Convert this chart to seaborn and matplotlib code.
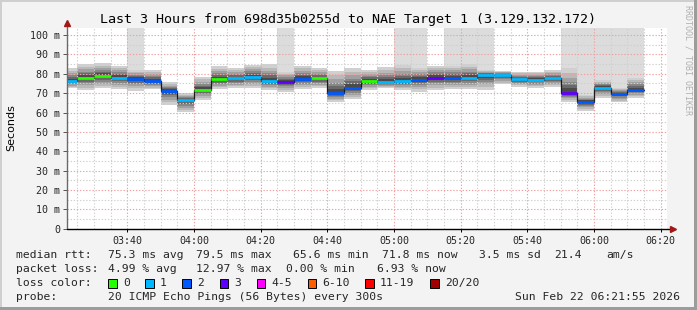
import numpy as np
import pandas as pd
import matplotlib
matplotlib.use("Agg")
import matplotlib.pyplot as plt
from matplotlib.patches import Rectangle
import seaborn as sns

# ---------------- data ----------------
step_times = ["03:20", "03:25", "03:30", "03:35", "03:40", "03:45", "03:50", "03:55",
              "04:00", "04:05", "04:10", "04:15", "04:20", "04:25", "04:30", "04:35",
              "04:40", "04:45", "04:50", "04:55", "05:00", "05:05", "05:10", "05:15",
              "05:20", "05:25", "05:30", "05:35", "05:40", "05:45", "05:50", "05:55",
              "06:00", "06:05", "06:10"]
median_ms = [76.3, 78.0, 79.0, 78.0, 77.3, 76.3, 71.1, 66.6, 71.8, 77.1,
             77.6, 78.5, 76.4, 75.9, 77.4, 77.6, 70.2, 72.8, 76.3, 75.9,
             76.4, 77.0, 78.0, 77.8, 78.0, 79.4, 79.4, 77.1, 76.8, 77.6,
             70.2, 65.6, 72.8, 69.7, 71.8]
smoke_lo = [72.5, 71.6, 72.5, 72.1, 71.3, 72.0, 63.9, 60.1, 66.4, 72.0,
            72.5, 72.8, 71.6, 70.7, 72.1, 72.5, 65.3, 67.0, 71.6, 72.5,
            71.6, 70.7, 71.6, 72.1, 72.1, 71.6, 74.5, 73.3, 72.8, 73.3,
            65.6, 60.8, 67.6, 65.3, 67.6]
smoke_hi = [82.8, 84.9, 85.5, 84.2, 81.9, 81.9, 75.6, 69.9, 78.5, 84.0,
            83.1, 84.5, 84.9, 81.1, 84.2, 82.8, 81.6, 83.1, 81.9, 83.5,
            84.5, 83.1, 84.2, 84.2, 84.9, 81.9, 81.6, 81.1, 81.1, 81.9,
            82.8, 69.0, 76.8, 72.5, 78.0]
max_rtt = [82.8, 84.9, 85.5, 84.2, 150, 81.9, 75.6, 69.9, 78.5, 84.0,
           83.1, 84.5, 84.9, 150, 84.2, 82.8, 81.6, 83.1, 81.9, 83.5,
           150, 150, 84.2, 150, 150, 150, 81.6, 81.1, 81.1, 81.9,
           150, 150, 150, 150, 150]
loss_pings = [1, 0, 0, 1, 2, 2, 2, 1, 0, 0,
              1, 1, 1, 3, 2, 0, 2, 2, 0, 1,
              1, 2, 3, 2, 1, 1, 1, 1, 1, 1,
              3, 2, 1, 2, 2]

loss_labels = ["0", "1", "2", "3", "4-5", "6-10", "11-19", "20/20"]
loss_colors = ["#26ff00", "#00b8ff", "#0059ff", "#5e00ff", "#ff00ff", "#ff5e00", "#ff0000", "#a10000"]

y_ticks = [0, 10, 20, 30, 40, 50, 60, 70, 80, 90, 100]
y_labels = ["0", "10 m", "20 m", "30 m", "40 m", "50 m", "60 m", "70 m", "80 m", "90 m", "100 m"]
x_ticks = ["03:40", "04:00", "04:20", "04:40", "05:00", "05:20", "05:40", "06:00", "06:20"]
window_start = "03:21:55"
window_end = "06:21:55"
step_minutes = 5

title = "Last 3 Hours from 698d35b0255d to NAE Target 1 (3.129.132.172)"
stats_rtt = [("median rtt:", 16), ("75.3 ms avg", 107.6), ("79.5 ms max", 196.4),
             ("65.6 ms min", 293.3), ("71.8 ms now", 382.2), ("3.5 ms sd", 479),
             ("21.4", 554), ("am/s", 606.7)]
stats_loss = [("packet loss:", 16), ("4.99 % avg", 107.6), ("12.97 % max", 196.4),
              ("0.00 % min", 285.8), ("6.93 % now", 376.9)]
probe_text = "20 ICMP Echo Pings (56 Bytes) every 300s"
date_text = "Sun Feb 22 06:21:55 2026"

# ---------------- helpers ----------------
def to_min(s):
    parts = [int(p) for p in s.split(":")]
    m = (parts[0] - 3) * 60 + parts[1]
    if len(parts) > 2:
        m += parts[2] / 60.0
    return m

W, H = 697, 310
def fx(x):
    return x / W
def fy(y):
    return 1 - y / H

sns.set_theme(style="white")
plt.rcParams["font.family"] = ["DejaVu Sans Mono", "DejaVu Sans"]
MONO = "DejaVu Sans Mono"

starts = np.array([to_min(t) for t in step_times])
edges = np.append(starts, starts[-1] + step_minutes)
med = np.array(median_ms)
lo = np.array(smoke_lo)
hi = np.array(smoke_hi)
mx = np.array(max_rtt)
x0, x1 = to_min(window_start), to_min(window_end)

def ext(a):
    return np.append(a, a[-1])

def loss_color(n):
    if n == 0: return loss_colors[0]
    if n == 1: return loss_colors[1]
    if n == 2: return loss_colors[2]
    if n == 3: return loss_colors[3]
    if n <= 5: return loss_colors[4]
    if n <= 10: return loss_colors[5]
    if n <= 19: return loss_colors[6]
    return loss_colors[7]

# ---------------- figure ----------------
fig = plt.figure(figsize=(W / 100, H / 100), dpi=100)
fig.patch.set_facecolor("#f3f3f3")
ax = fig.add_axes([fx(67), fy(228.7), (667 - 67) / W, (228.7 - 27.7) / H])
ax.set_facecolor("white")
ymax = 103.8
ax.set_xlim(x0, x1)
ax.set_ylim(0, ymax)

# smoke
ax.fill_between(edges, ext(lo), ext(np.maximum(mx, hi)), step="post", color="#dcdcdc", lw=0, zorder=1)
fracs = [1.0, 0.8, 0.62, 0.46, 0.32, 0.18]
greys = ["#d0d0d0", "#b9b9b9", "#a0a0a0", "#868686", "#696969", "#4a4a4a"]
for f, c in zip(fracs, greys):
    top = med + (hi - med) * f
    bot = med - (med - lo) * f
    ax.fill_between(edges, ext(bot), ext(top), step="post", color=c, lw=0, zorder=1.1)

# grid (drawn over smoke like rrdtool)
dot = (0, (1.2, 1.6))
for m in np.arange(25, x1, 5):
    major = (m % 20 == 0)
    ax.axvline(m, color="#f0a0a0" if major else "#cfcfcf", lw=0.8, ls=dot, zorder=2)
for v in np.arange(5, ymax, 5):
    major = (v % 10 == 0)
    ax.axhline(v, color="#f0a0a0" if major else "#cfcfcf", lw=0.8, ls=dot, zorder=2)

# median step line + loss-coloured segments
sns.lineplot(x=edges, y=ext(med), drawstyle="steps-post", color="#1a1a1a", lw=0.9,
             estimator=None, ax=ax, zorder=3)
ax.hlines(med, starts, starts + step_minutes, colors=[loss_color(n) for n in loss_pings],
          lw=2.0, zorder=4)

# axes styling
for s in ax.spines.values():
    s.set_visible(False)
ax.set_yticks(y_ticks)
ax.set_yticklabels(y_labels, fontsize=7.2, family=MONO)
ax.set_xticks([to_min(t) for t in x_ticks])
ax.set_xticklabels(x_ticks, fontsize=7.2, family=MONO)
ax.tick_params(axis="y", length=3, width=0.7, color="#555555", pad=2, left=True)
ax.tick_params(axis="x", length=2, width=0.7, color="#000000", pad=3, bottom=True)
ax.set_xlabel("")
ax.set_ylabel("")
ax.grid(False)

# axis lines with arrows
ax.plot([0, 0], [0, 1.02], transform=ax.transAxes, color="#6a6a6a", lw=1.0, clip_on=False, zorder=5)
ax.plot([0, 1.008], [0, 0], transform=ax.transAxes, color="#000000", lw=1.0, clip_on=False, zorder=5)
ax.plot([0], [1.022], transform=ax.transAxes, marker="^", ms=5, color="#a01818", clip_on=False, zorder=6)
ax.plot([1.01], [0], transform=ax.transAxes, marker=">", ms=5, color="#a01818", clip_on=False, zorder=6)

# titles / labels
fig.text(fx(348), fy(19), title, ha="center", va="center", fontsize=9.6, family=MONO, color="#000000")
fig.text(fx(11), fy(128), "Seconds", rotation=90, ha="center", va="center", fontsize=8,
         family="DejaVu Sans", color="#000000")
fig.text(fx(688), fy(60), "RRDTOOL / TOBI OETIKER", rotation=270, ha="center", va="center",
         fontsize=6, family=MONO, color="#b0b0b0")

# legend block
fs = 8.2
for txt, x in stats_rtt:
    fig.text(fx(x), fy(255), txt, ha="left", va="center", fontsize=fs, family=MONO)
for txt, x in stats_loss:
    fig.text(fx(x), fy(269), txt, ha="left", va="center", fontsize=fs, family=MONO)
fig.text(fx(16), fy(283), "loss color:", ha="left", va="center", fontsize=fs, family=MONO)
sw_x = [108.4, 145.3, 182.2, 219.6, 256.9, 307.6, 365.3, 430.2]
for lab, col, sx in zip(loss_labels, loss_colors, sw_x):
    fig.add_artist(Rectangle((fx(sx), fy(287.5)), 8.5 / W, 8.5 / H, transform=fig.transFigure,
                             facecolor=col, edgecolor="black", lw=0.7))
    fig.text(fx(sx + 14.6), fy(283), lab, ha="left", va="center", fontsize=fs, family=MONO)
fig.text(fx(16), fy(297), "probe:", ha="left", va="center", fontsize=fs, family=MONO)
fig.text(fx(107.6), fy(297), probe_text, ha="left", va="center", fontsize=fs, family=MONO)
fig.text(fx(680), fy(297), date_text, ha="right", va="center", fontsize=fs, family=MONO)

# 3D frame
fig.add_artist(Rectangle((0, fy(2)), 1, 2 / H, transform=fig.transFigure, color="#cfcfcf", lw=0))
fig.add_artist(Rectangle((0, 0), 2 / W, 1, transform=fig.transFigure, color="#cfcfcf", lw=0))
fig.add_artist(Rectangle((fx(694), 0), 3 / W, 1, transform=fig.transFigure, color="#9c9c9c", lw=0))
fig.add_artist(Rectangle((0, 0), 1, 3 / H, transform=fig.transFigure, color="#9c9c9c", lw=0))

fig.savefig("out.png", dpi=100, facecolor=fig.get_facecolor())
